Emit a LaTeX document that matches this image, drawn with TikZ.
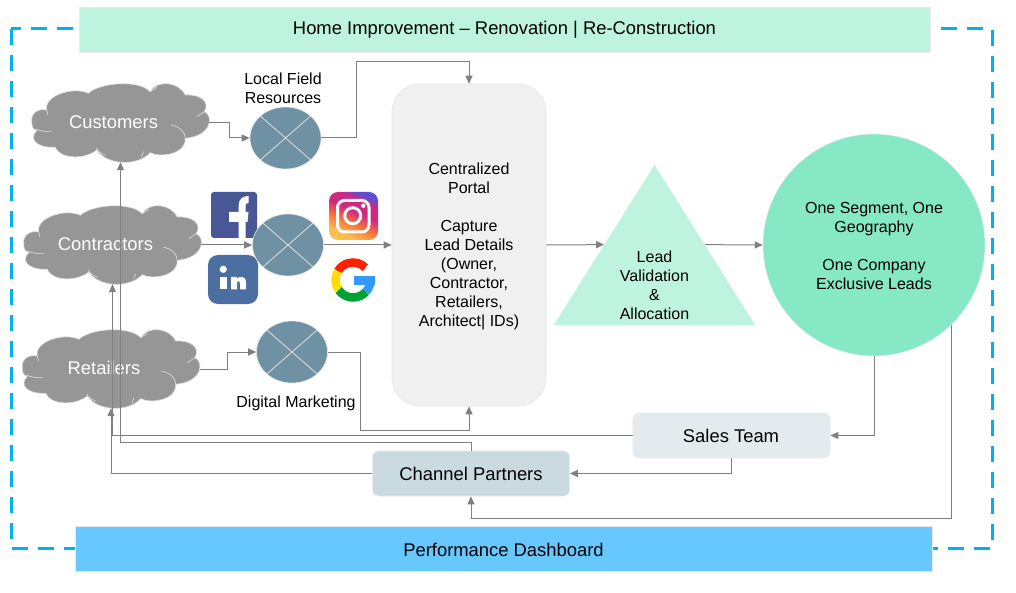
\documentclass[tikz,border=0pt]{standalone}
\usepackage{fontspec}
\setmainfont{Liberation Sans}
\usetikzlibrary{
  shapes.geometric,
  arrows.meta
}
\definecolor{bandmint}{HTML}{BEF3E0}
\definecolor{discmint}{HTML}{86E8C4}
\definecolor{dashblue}{HTML}{00B0F0}
\definecolor{dashfill}{HTML}{66C8FF}
\definecolor{linegray}{HTML}{808080}
\definecolor{cloudgray}{HTML}{969696}
\definecolor{crossblue}{HTML}{6E92A3}
\definecolor{igpurple}{HTML}{5B4FD0}
\definecolor{igpink}{HTML}{D1287F}
\definecolor{igorange}{HTML}{F77737}
\definecolor{igyellow}{HTML}{FCC050}
\pgfdeclareverticalshading{igshade}{100bp}{color(0bp)=(igyellow); color(28bp)=(igyellow); color(42bp)=(igorange); color(55bp)=(igpink); color(66bp)=(igpink); color(75bp)=(igpurple); color(100bp)=(igpurple)}

\begin{document}
\begin{tikzpicture}[
  x=1pt, y=-1pt,
  txt/.style={font=\fontsize{16}{19}\selectfont, align=center, inner sep=0pt},
  bigtxt/.style={font=\fontsize{18.4}{21}\selectfont, align=center, inner sep=0pt},
  conn/.style={draw=linegray, line width=1pt, -{Triangle[length=8pt,width=7pt]}},
  band/.style={rectangle, draw=black!8, line width=.5pt, minimum height=45pt},
  softbox/.style={rectangle, rounded corners=6pt, draw=black!8, line width=.7pt,
    minimum width=197pt, minimum height=45pt},
  xcircle/.style={ellipse, draw=black!10, line width=.6pt, fill=crossblue, inner sep=0pt,
    minimum width=71pt, minimum height=62pt,
    path picture={
      \draw[black!15, line width=.9pt]
        (path picture bounding box.north west) -- (path picture bounding box.south east)
        (path picture bounding box.north east) -- (path picture bounding box.south west);
    }},
  pics/cloudblob/.style={code={
    \fill[cloudgray, draw=black!12, line width=.6pt]
      (-88.7,-1.3) .. controls (-90,-9) and (-83,-15) .. (-73.7,-13)
      .. controls (-77,-27) and (-48,-37) .. (-32,-29.7)
      .. controls (-22,-40) and (18,-44) .. (29.7,-31.3)
      .. controls (36,-43) and (58,-42) .. (64.7,-28)
      .. controls (80,-29) and (90,-21) .. (83.7,-11.3)
      .. controls (93,-8) and (92,13) .. (64.7,15.3)
      .. controls (66,31) and (40,35) .. (29.7,29.7)
      .. controls (18,43) and (-13,43) .. (-23.7,27)
      .. controls (-36,37) and (-61,36) .. (-65.3,24.3)
      .. controls (-87,25) and (-91,14) .. (-83.7,7.7)
      .. controls (-88,6) and (-88.9,3) .. (-88.7,-1.3) -- cycle;
    \draw[black!12, line width=.6pt]
      (50.7,2) .. controls (60,4) and (65,10) .. (64.7,15.3)
      (76.3,-6.3) -- (83.7,-11.3)
      (29.7,-31.3) -- (36.3,-35.7)
      (-73.7,-13) -- (-72.7,-8)
      (-85,6) .. controls (-80,8) and (-75,9) .. (-68.7,8.7)
      (-24.3,25) .. controls (-22,29) and (-19,31) .. (-15,32)
      (21,33.7) -- (23,28.7);
    \node[rectangle, minimum width=177pt, minimum height=78pt, inner sep=0pt] (-blob) at (0,0) {};
    \node[bigtxt, text=white] (-name) at (-7,-1) {#1};
  }}
]
  \useasboundingbox (0,0) rectangle (1016,593);
  \fill[white] (0,0) rectangle (1016,593);

  \draw[dashblue, line width=3pt, dash pattern=on 16pt off 10pt] (11,29) rectangle (992,548);
  \node[band, fill=bandmint, minimum width=851pt] (top) at (504.5,29.5) {};
  \node[bigtxt] (toptxt) at (504.5,30) {Home Improvement -- Renovation | Re-Construction};
  \node[band, fill=dashfill, minimum width=857pt] (dash) at (503.5,549) {};
  \node[bigtxt] (dashtxt) at (503.5,549.5) {Performance Dashboard};

  \pic (cust) at (120.5,123) {cloudblob=Customers};
  \pic (contr) at (112.5,245) {cloudblob=Contractors};
  \pic (ret) at (111,369) {cloudblob=Retailers};

  % social icons sit under the middle circle
  \fill[fill={rgb,255:red,72;green,88;blue,148}, rounded corners=3pt] (211,192) rectangle (257,238);
  \fill[white] (238.5,238) -- (238.5,222) -- (229,222) -- (229,212) -- (238.5,212) -- (238.5,206)
    .. controls (238.5,199) and (243,196) .. (248.5,196) -- (248.5,203)
    .. controls (246,203) and (245.5,204) .. (245.5,206) -- (245.5,212) -- (248.5,212)
    -- (247.5,222) -- (245.5,222) -- (245.5,238) -- cycle;
  \fill[fill={rgb,255:red,74;green,111;blue,160}, rounded corners=10pt] (208,255) rectangle (258,304);
  \fill[white] (220,277) rectangle (226.7,289.5);
  \fill[white] (223.3,269.3) circle[radius=3.6];
  \fill[white] (231,277) -- (237,277) -- (237,279) .. controls (239,276) and (246,275) .. (246,283)
    -- (246,289.5) -- (240,289.5) -- (240,284) .. controls (240,280) and (237,280) .. (237,284)
    -- (237,289.5) -- (231,289.5) -- cycle;

  \shade[shading=igshade, shading angle=-25, rounded corners=9pt] (329,192) rectangle (378,240);
  \draw[white, line width=3pt, rounded corners=7pt] (337.5,200.5) rectangle (369,232);
  \draw[white, line width=3pt] (352.7,215.7) circle[radius=8];
  \fill[white] (363.3,205.7) circle[radius=2.2];

  \begin{scope}[line width=8.5pt]
    \draw[red!75!orange] (353,280) ++(-45:17.5) arc[start angle=-45, end angle=-150, radius=17.5];
    \draw[yellow!80!orange] (353,280) ++(-150:17.5) arc[start angle=-150, end angle=-215, radius=17.5];
    \draw[green!55!black!80!cyan] (353,280) ++(-215:17.5) arc[start angle=-215, end angle=-318, radius=17.5];
    \draw[blue!50!cyan!80] (353,280) ++(-318:17.5) arc[start angle=-318, end angle=-360, radius=17.5] -- (370.5,281);
    \fill[blue!50!cyan!80] (353.5,276) rectangle (375,285);
  \end{scope}

  \node[rectangle, rounded corners=28pt, draw=black!10, line width=.6pt, fill=black!6,
    minimum width=154pt, minimum height=322pt] (portal) at (469,245) {};
  \node[txt] (portaltxt) at (469,246)
    {Centralized\\Portal\\~\\Capture\\Lead Details\\(Owner,\\Contractor,\\Retailers,\\Architect| IDs)};
  \node[isosceles triangle, shape border rotate=90, isosceles triangle stretches, fill=bandmint, inner sep=0pt,
    minimum width=201pt, minimum height=160pt, anchor=lower side] (lead) at (654.5,325) {};
  \node[txt] (leadtxt) at (654.5,285.5) {Lead\\Validation\\\&\\Allocation};
  \node[circle, fill=discmint, draw=black!8, line width=.5pt, minimum size=222pt, inner sep=0pt] (seg) at (874,245) {};
  \node[txt] (segtxt) at (874,246) {One Segment, One\\Geography\\~\\One Company\\Exclusive Leads};

  \node[softbox, fill={rgb,255:red,228;green,235;blue,239}] (sales) at (731.5,435.5) {};
  \node[bigtxt] (salestxt) at (731,436) {Sales Team};
  \node[softbox, fill={rgb,255:red,201;green,218;blue,225}] (chan) at (471,473.5) {};
  \node[bigtxt] (chantxt) at (471,474) {Channel Partners};

  \node[xcircle] (xa) at (285.5,138) {};
  \node[xcircle] (xb) at (288,245) {};
  \node[xcircle] (xc) at (292,352) {};
  \node[txt] (fieldlab) at (283,88.5) {Local Field\\Resources};
  \node[txt] (digilab) at (296,403) {Digital Marketing};

  \draw[conn] (cust-blob.east) -- ++(20,0) |- (xa.west);
  \draw[conn] (xa.east) -- ++(35,0) |- (469,62) -- (portal.north);
  \draw[conn] (contr-blob.east) -- (xb.west);
  \draw[conn] (xb.east) -- (portal.west);
  \draw[conn] (ret-blob.east) -- ++(28,0) |- (xc.west);
  \draw[conn] (xc.east) -- ++(33,0) |- (469,430) -- (portal.south);
  \draw[conn] (portal.east) -- (lead.left side);
  \draw[conn] (lead.right side) -- (seg.west);
  \draw[conn] (seg.south) |- (sales.east);
  \draw[conn] (sales.south) |- (chan.east);
  \draw[conn] (sales.west) -| (contr-blob.south);
  \draw[conn] (chan.north) -- ++(0,-8) -| (cust-blob.south);
  \draw[conn] (chan.west) -| (ret-blob.south);
  \draw[conn] (seg.-46) |- (471,518) -- (chan.south);
\end{tikzpicture}
\end{document}
